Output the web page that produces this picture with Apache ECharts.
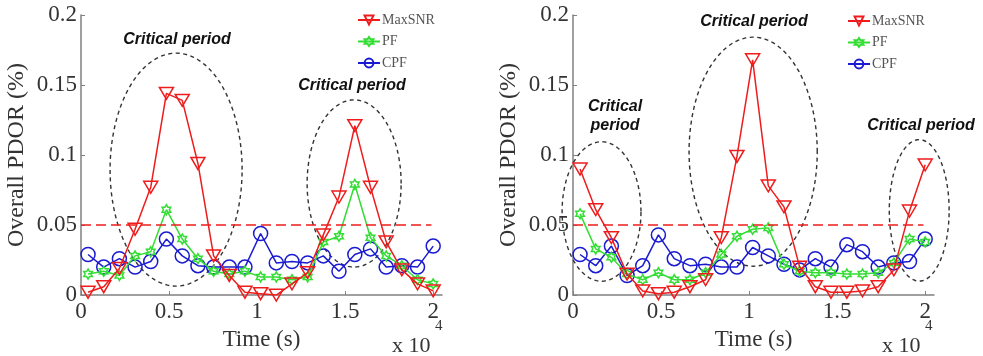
<!DOCTYPE html>
<html><head><meta charset="utf-8">
<script src="https://cdn.jsdelivr.net/npm/echarts@6/dist/echarts.min.js"></script>
<style>html,body{margin:0;padding:0;background:#fff}#c{width:983px;height:356px}</style>
</head><body><div id="c"></div>
<script>
// sample times (s)
const times = [400, 1290, 2180, 3070, 3960, 4850, 5750, 6640, 7530, 8420, 9310, 10200, 11090, 11980, 12870, 13760, 14650, 15550, 16440, 17330, 18220, 19110, 20000];
// left panel
const leftMaxSNR = [0.002, 0.006, 0.019, 0.047, 0.077, 0.144, 0.139, 0.094, 0.028, 0.014, 0.002, 0.001, 0.000, 0.008, 0.016, 0.043, 0.070, 0.121, 0.077, 0.038, 0.018, 0.008, 0.003];
const leftPF     = [0.015, 0.017, 0.014, 0.028, 0.031, 0.061, 0.040, 0.026, 0.017, 0.015, 0.017, 0.013, 0.013, 0.011, 0.013, 0.038, 0.042, 0.079, 0.041, 0.028, 0.021, 0.011, 0.008];
const leftCPF    = [0.029, 0.020, 0.026, 0.020, 0.024, 0.040, 0.028, 0.021, 0.020, 0.020, 0.020, 0.044, 0.023, 0.024, 0.023, 0.028, 0.017, 0.029, 0.033, 0.020, 0.021, 0.020, 0.035];
// right panel
const rightMaxSNR = [0.090, 0.061, 0.041, 0.015, 0.003, 0.001, 0.002, 0.006, 0.011, 0.041, 0.099, 0.168, 0.078, 0.063, 0.020, 0.006, 0.002, 0.002, 0.003, 0.006, 0.018, 0.060, 0.093];
const rightPF     = [0.058, 0.033, 0.027, 0.015, 0.011, 0.016, 0.011, 0.011, 0.016, 0.029, 0.042, 0.047, 0.048, 0.022, 0.017, 0.016, 0.016, 0.015, 0.015, 0.016, 0.023, 0.040, 0.038];
const rightCPF    = [0.029, 0.021, 0.035, 0.014, 0.021, 0.043, 0.026, 0.021, 0.022, 0.020, 0.020, 0.034, 0.028, 0.022, 0.018, 0.026, 0.020, 0.036, 0.031, 0.020, 0.023, 0.024, 0.040];
// axes
const yTicks = [0, 0.05, 0.1, 0.15, 0.2];
const xTicks = [0, 5000, 10000, 15000, 20000];
const xTickLabels = ['0', '0.5', '1', '1.5', '2'];
const threshold = 0.05;
const thresholdEnd = 19900;
// critical-period ellipses: [centerTime, centerValue, radiusTime, radiusValue]
const ellipsesLeft = [[5400, 0.0896, 3750, 0.0832], [15510, 0.0797, 2670, 0.0597]];
const ellipsesRight = [[1620, 0.0597, 2240, 0.0498], [10230, 0.1024, 3640, 0.0818], [19660, 0.0605, 1700, 0.0505]];
const seriesNames = ['MaxSNR', 'PF', 'CPF'];

const RED = '#ee1c1c', GREEN = '#33dd33', BLUE = '#1a1ad0';
const SERIF = '"Liberation Serif", "Times New Roman", serif';
const SANS = '"Liberation Sans", Arial, sans-serif';
const TRI = 'path://M0,0 L20,0 L10,17 Z';
const HEX = 'path://M100,0 L71.13,50 L13.4,50 L42.3,100 L13.4,150 L71.13,150 L100,200 L128.87,150 L186.6,150 L157.7,100 L186.6,50 L128.87,50 Z';

const pairs = (vals) => vals.map((v, i) => [times[i], v]);

function lineSeries(name, vals, idx, color, symbol, size, withThreshold) {
  const s = {
    name, type: 'line', xAxisIndex: idx, yAxisIndex: idx,
    data: pairs(vals), symbol, symbolSize: size, symbolKeepAspect: true,
    showAllSymbol: true, z: name === 'MaxSNR' ? 5 : (name === 'PF' ? 4 : 3),
    lineStyle: { color, width: 1.5 },
    itemStyle: { color: 'rgba(0,0,0,0)', borderColor: color, borderWidth: 1.5 },
    emphasis: { disabled: true }, animation: false
  };
  if (withThreshold) {
    s.markLine = {
      silent: true, symbol: 'none', label: { show: false },
      lineStyle: { color: RED, type: [10, 5], width: 1.5 },
      data: [[{ coord: [0, threshold] }, { coord: [thresholdEnd, threshold] }]]
    };
  }
  return s;
}

function ellipseSeries(list, idx) {
  return {
    type: 'custom', xAxisIndex: idx, yAxisIndex: idx, data: list, silent: true, z: 1,
    renderItem(params, api) {
      const c = api.coord([api.value(0), api.value(1)]);
      const s = api.size([api.value(2), api.value(3)]);
      const pts = [];
      for (let k = 0; k <= 96; k++) {
        const a = 2 * Math.PI * k / 96;
        pts.push([c[0] + s[0] * Math.cos(a), c[1] - s[1] * Math.sin(a)]);
      }
      return { type: 'polyline', shape: { points: pts },
        style: { stroke: '#333', lineWidth: 1.4, fill: null, lineDash: [4, 3.5] } };
    }
  };
}

function xAxis(idx) {
  return {
    type: 'value', gridIndex: idx, min: 0, max: 20500, interval: 5000,
    name: 'Time (s)', nameLocation: 'middle', nameGap: 28,
    nameTextStyle: { fontFamily: SERIF, fontSize: 23, color: '#333' },
    axisLine: { show: true, lineStyle: { color: '#808080', width: 1.5 } },
    axisTick: { show: true, inside: true, length: 4, customValues: xTicks, lineStyle: { color: '#808080' } },
    axisLabel: { customValues: xTicks, margin: 5, fontFamily: SERIF, fontSize: 23, color: '#333',
      formatter: (v) => xTickLabels[xTicks.indexOf(v)] ?? '' },
    splitLine: { show: false }
  };
}
function yAxis(idx) {
  return {
    type: 'value', gridIndex: idx, min: 0, max: 0.2, interval: 0.05,
    name: 'Overall PDOR (%)', nameLocation: 'middle', nameGap: 52,
    nameTextStyle: { fontFamily: SERIF, fontSize: 24, color: '#333' },
    axisLine: { show: true, lineStyle: { color: '#808080', width: 1.5 } },
    axisTick: { show: true, inside: true, length: 4, lineStyle: { color: '#808080' } },
    axisLabel: { margin: 4, fontFamily: SERIF, fontSize: 23, color: '#333',
      formatter: (v) => String(+v.toFixed(2)) },
    splitLine: { show: false }
  };
}
function legend(left, top) {
  return {
    left, top, orient: 'vertical', padding: 0, itemWidth: 22, itemHeight: 11, itemGap: 7.5,
    data: seriesNames, selectedMode: false,
    textStyle: { fontFamily: SERIF, fontSize: 14, color: '#555', padding: [0, 0, 0, -3] }
  };
}
function text(str, x, y, font, opts) {
  return Object.assign({ type: 'text', x, y, style: { text: str, font, fill: '#111', align: 'center', verticalAlign: 'middle' }, z: 10 }, opts || {});
}
const CP = 'italic bold 16px ' + SANS;

const chart = echarts.init(document.getElementById('c'), null, { renderer: 'canvas' });
chart.setOption({
  backgroundColor: '#fff',
  animation: false,
  grid: [
    { left: 81, top: 15, width: 361, height: 281 },
    { left: 573, top: 15, width: 361, height: 281 }
  ],
  xAxis: [xAxis(0), xAxis(1)],
  yAxis: [yAxis(0), yAxis(1)],
  legend: [legend(357, 13), legend(847, 14)],
  series: [
    ellipseSeries(ellipsesLeft, 0),
    ellipseSeries(ellipsesRight, 1),
    lineSeries('CPF', leftCPF, 0, BLUE, 'circle', 14, false),
    lineSeries('PF', leftPF, 0, GREEN, HEX, 10, false),
    lineSeries('MaxSNR', leftMaxSNR, 0, RED, TRI, 14, true),
    lineSeries('CPF', rightCPF, 1, BLUE, 'circle', 14, false),
    lineSeries('PF', rightPF, 1, GREEN, HEX, 10, false),
    lineSeries('MaxSNR', rightMaxSNR, 1, RED, TRI, 14, true)
  ],
  graphic: [
    text('Critical period', 177, 40, CP),
    text('Critical period', 352, 86, CP),
    text('Critical', 615, 107, CP),
    text('period', 615, 126, CP),
    text('Critical period', 754, 22, CP),
    text('Critical period', 921, 126, CP),
    { type: 'text', x: 392, y: 346, style: { text: 'x 10', font: '22px ' + SERIF, fill: '#333', verticalAlign: 'middle' } },
    { type: 'text', x: 435, y: 326, style: { text: '4', font: '15px ' + SERIF, fill: '#333', verticalAlign: 'middle' } },
    { type: 'text', x: 882, y: 346, style: { text: 'x 10', font: '22px ' + SERIF, fill: '#333', verticalAlign: 'middle' } },
    { type: 'text', x: 925, y: 326, style: { text: '4', font: '15px ' + SERIF, fill: '#333', verticalAlign: 'middle' } }
  ]
});
</script>
</body></html>
